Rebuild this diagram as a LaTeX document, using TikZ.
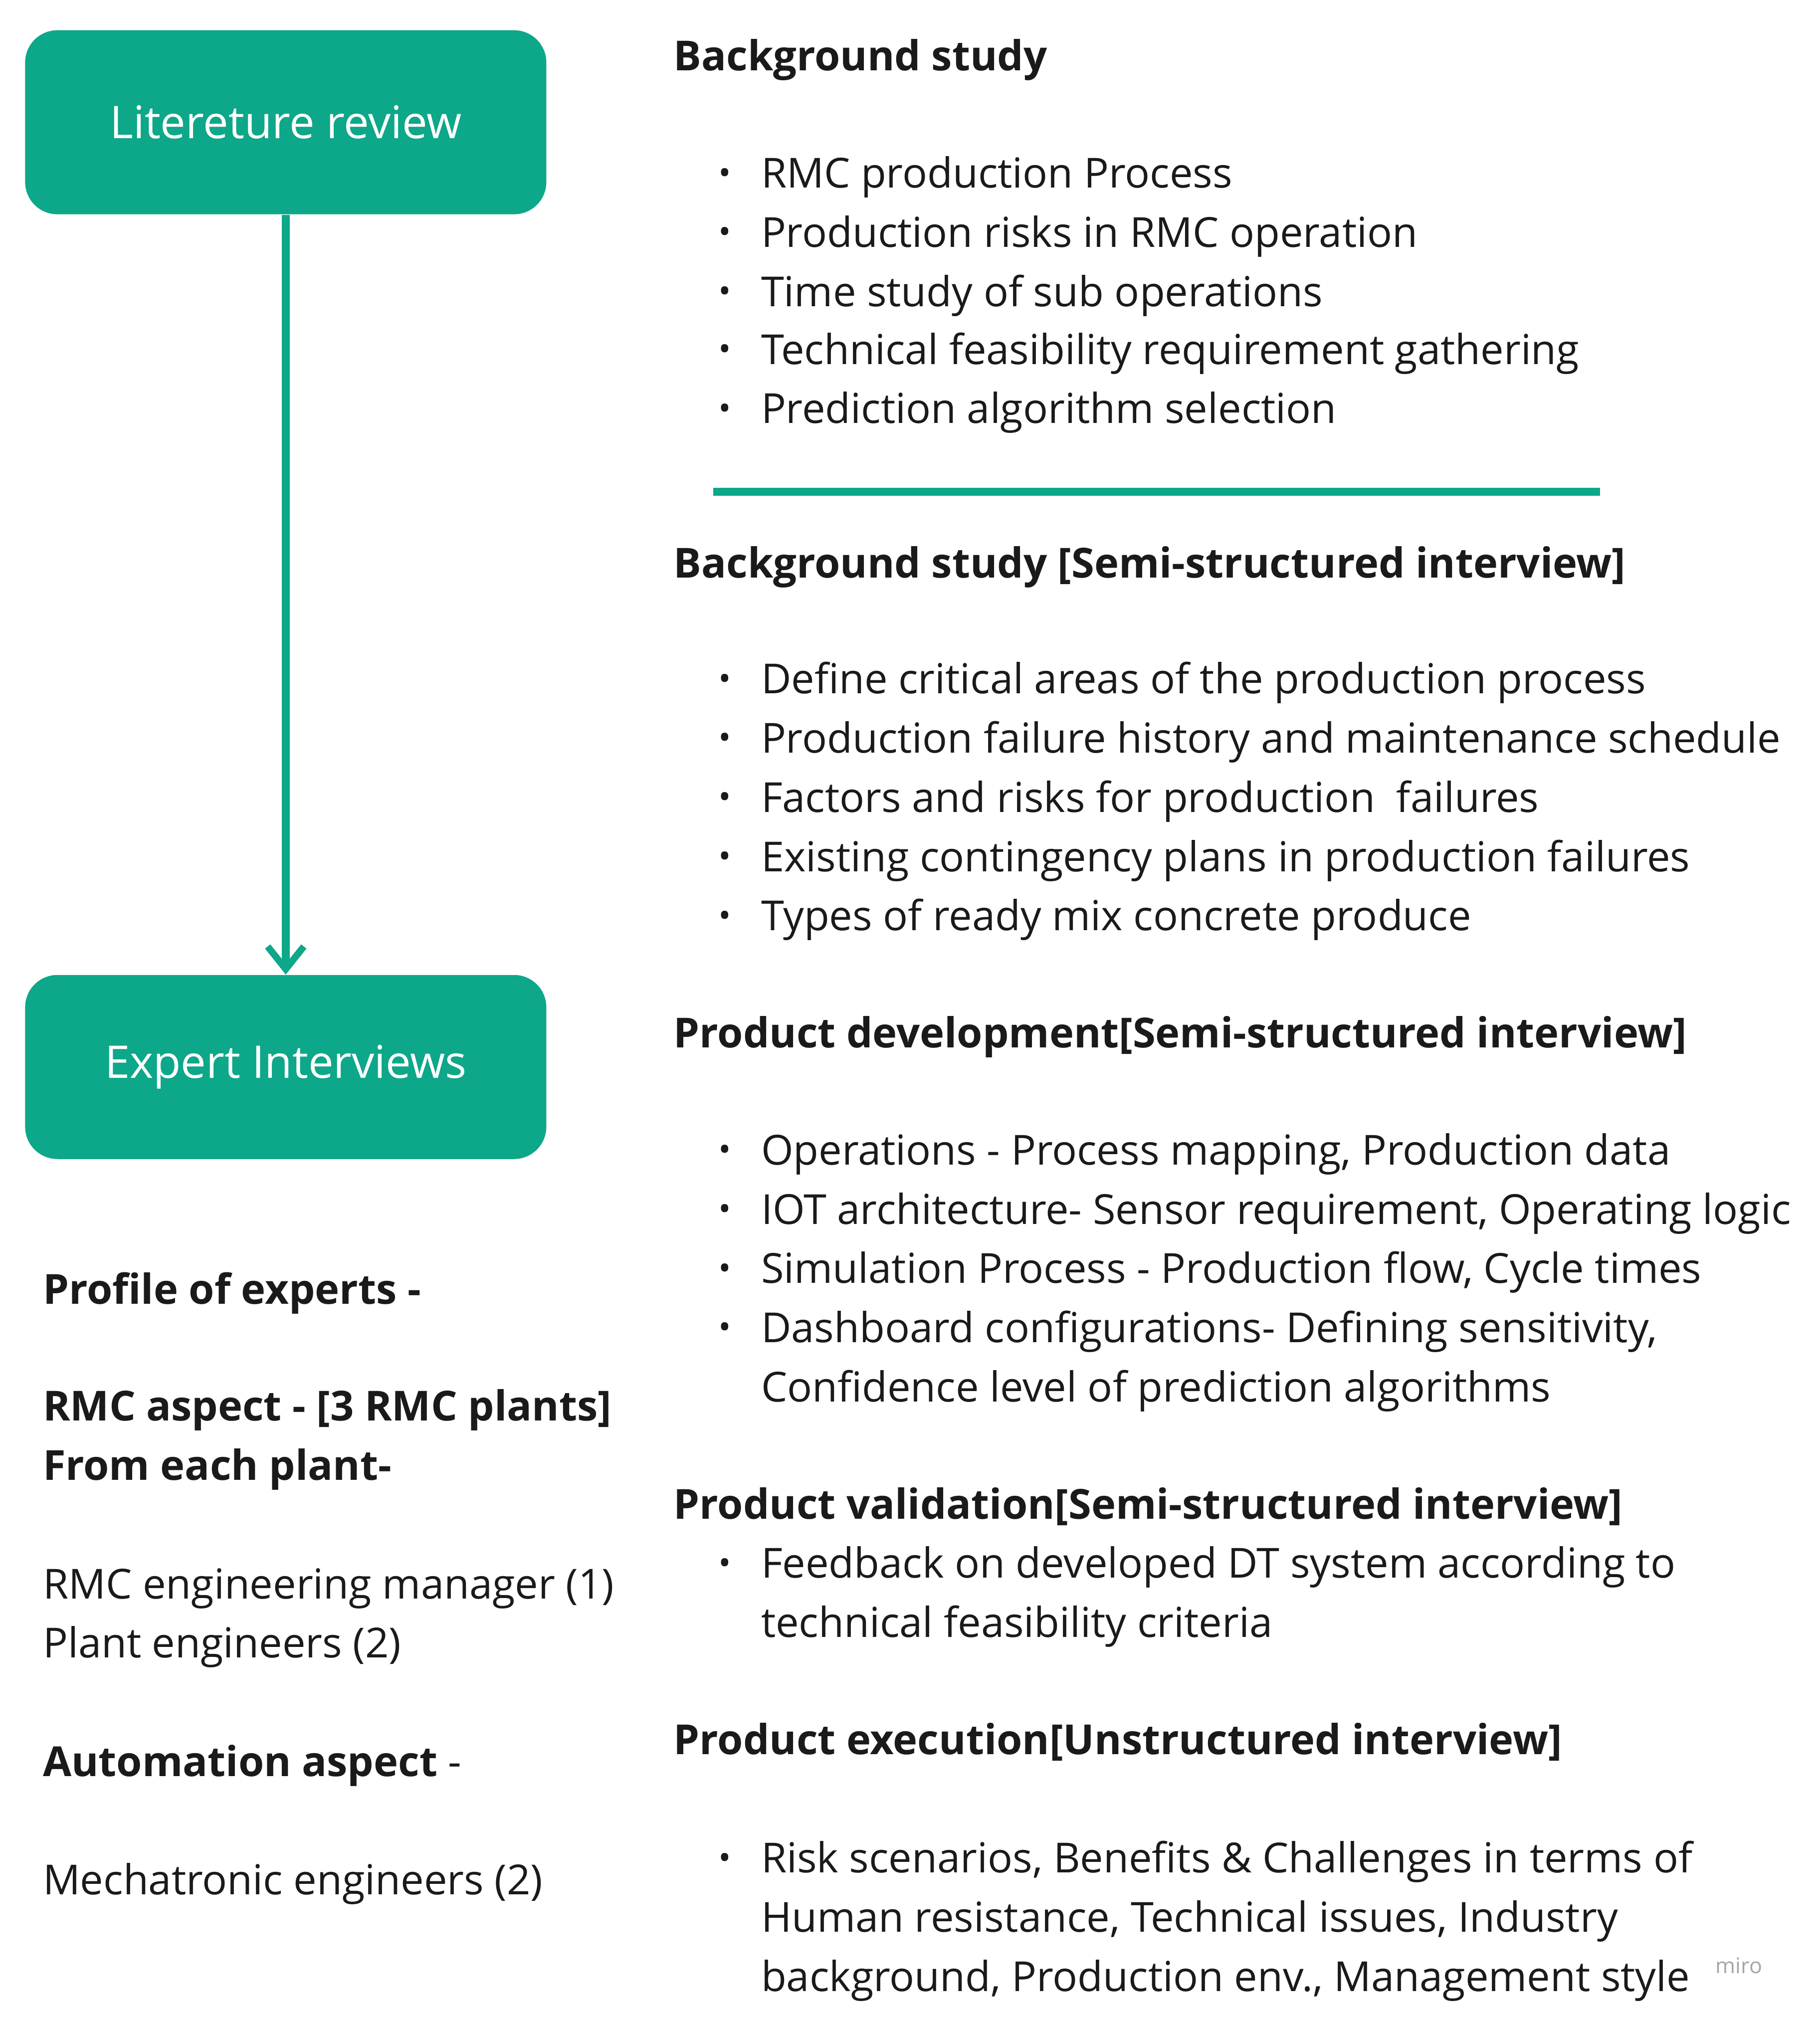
\documentclass[tikz,border=0pt]{standalone}
\usepackage{fontspec}
\setmainfont{Open Sans}
\usetikzlibrary{arrows.meta}
\definecolor{teal}{HTML}{0DA789}
\definecolor{txt}{HTML}{1A1A1A}
\begin{document}
\begin{tikzpicture}[x=0.02cm,y=-0.02cm,
  box/.style={fill=teal,rounded corners=0.5cm,minimum width=8.1cm,minimum height=2.86cm,text=white,font=\fontsize{19.9}{23}\selectfont},
  t/.style={anchor=base west,inner sep=0pt,text=txt,font=\fontsize{18.3}{22}\selectfont},
  h/.style={t,font=\fontsize{18.3}{22}\selectfont\bfseries},
  bul/.style={anchor=center,inner sep=0pt,text=txt,font=\fontsize{15}{18}\selectfont}]
\useasboundingbox[fill=white] (0,0) rectangle (1414,1571);
\node[box] (lr) at (222,95) {Litereture review};
\node[box] (ei) at (222,829) {Expert Interviews};
\draw[teal,line width=3.5pt,-{Straight Barb[length=10pt,width=16pt,line width=3pt]}] (lr.south) -- (ei.north);
% left
\node[h] (p1) at (33,1013) {Profile of experts -};
\node[h] (p2) at (33,1104) {RMC aspect - [3 RMC plants]};
\node[h] (p3) at (33,1150) {From each plant-};
\node[t] (p4) at (33,1242) {RMC engineering manager (1)};
\node[t] (p5) at (33,1288) {Plant engineers (2)};
\node[t] (p6) at (33,1380) {\textbf{Automation aspect} -};
\node[t] (p7) at (33,1472) {Mechatronic engineers (2)};
% right
\newcommand\hd[2]{\node[h] at (523,#1+11) {#2};}
\newcommand\bl[2]{\node[bul] at (563,#1+2) {\textbullet}; \node[t] at (591,#1+11) {#2};}
\newcommand\cl[2]{\node[t] at (591,#1+11) {#2};}
\hd{44}{Background study}
\bl{135}{RMC production Process}
\bl{181}{Production risks in RMC operation}
\bl{227}{Time study of sub operations}
\bl{272}{Technical feasibility requirement gathering}
\bl{318}{Prediction algorithm selection}
\coordinate (s1) at (554,382); \coordinate (s2) at (1243,382);
\draw[teal,line width=3.5pt] (s1) -- (s2);
\hd{438}{Background study [Semi-structured interview]}
\bl{528}{Define critical areas of the production process}
\bl{574}{Production failure history and maintenance schedule}
\bl{620}{Factors and risks for production~ failures}
\bl{666}{Existing contingency plans in production failures}
\bl{712}{Types of ready mix concrete produce}
\hd{803}{Product development[Semi-structured interview]}
\bl{894}{Operations - Process mapping, Production data}
\bl{940}{IOT architecture- Sensor requirement, Operating logic}
\bl{986}{Simulation Process - Production flow, Cycle times}
\bl{1032}{Dashboard configurations- Defining sensitivity,}
\cl{1078}{Confidence level of prediction algorithms}
\hd{1169}{Product validation[Semi-structured interview]}
\bl{1215}{Feedback on developed DT system according to}
\cl{1261}{technical feasibility criteria}
\hd{1352}{Product execution[Unstructured interview]}
\bl{1444}{Risk scenarios, Benefits \& Challenges in terms of}
\cl{1490}{Human resistance, Technical issues, Industry}
\cl{1536}{background, Production env., Management style}
\node[anchor=center,text=black!35,font=\fontsize{9.5}{10}\selectfont] (miro) at (1351,1527) {miro};
\end{tikzpicture}
\end{document}
